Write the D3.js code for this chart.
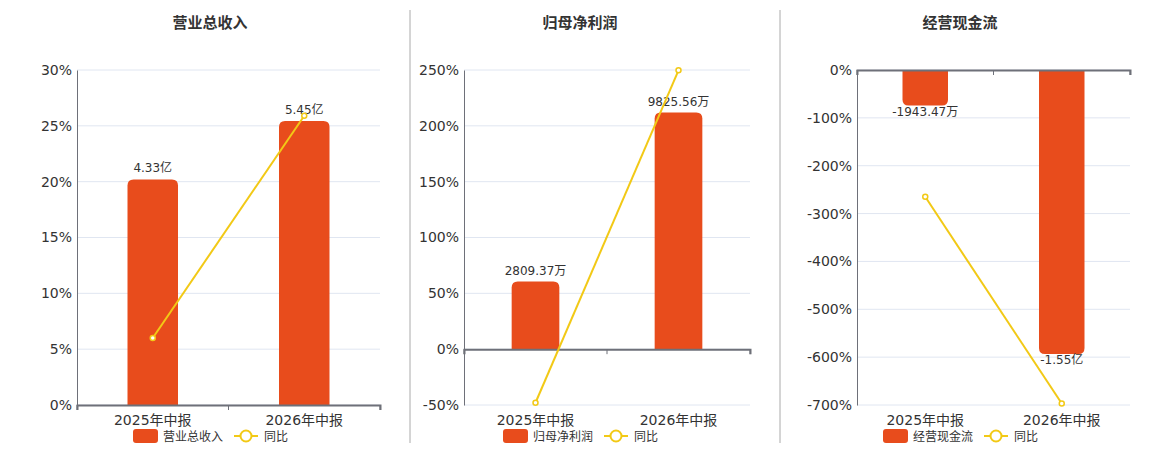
<!DOCTYPE html>
<html>
<head>
<meta charset="utf-8">
<script src="https://cdn.jsdelivr.net/npm/d3@7"></script>
<style>
  body { margin: 0; background: #fff; }
  text { font-family: "DejaVu Sans", "Noto Sans CJK SC", sans-serif; }
</style>
</head>
<body>
<div id="chart"></div>
<script>
// datos
const categories = ["2025年中报", "2026年中报"]
const revenue = [4.33, 5.45]            // 亿
const revenueLabels = ["4.33亿", "5.45亿"]
const revenueYoy = [6.0, 25.9]
const profit = [2809.37, 9825.56]       // 万
const profitLabels = ["2809.37万", "9825.56万"]
const profitYoy = [-48, 249.7]
const cashflow = [-1943.47, -15500]     // 万
const cashflowLabels = ["-1943.47万", "-1.55亿"]
const cashflowYoy = [-265, -697]

const revenueTicks = [0, 5, 10, 15, 20, 25, 30]
const profitTicks = [-50, 0, 50, 100, 150, 200, 250]
const cashflowTicks = [-700, -600, -500, -400, -300, -200, -100, 0]

const width = 1160
const height = 450
const barColor = "#e84c1c"
const lineColor = "#f2c916"

const svg = d3.select("#chart").append("svg").attr("width", width).attr("height", height)

const panels = [
  { title: "营业总收入", name: "营业总收入", left: 77, right: 380, center: 210, bars: revenue, labels: revenueLabels, yoy: revenueYoy, ticks: revenueTicks },
  { title: "归母净利润", name: "归母净利润", left: 464, right: 750, center: 580, bars: profit, labels: profitLabels, yoy: profitYoy, ticks: profitTicks },
  { title: "经营现金流", name: "经营现金流", left: 857, right: 1130, center: 960, bars: cashflow, labels: cashflowLabels, yoy: cashflowYoy, ticks: cashflowTicks }
]

const plotTop = 70, plotBottom = 405

// separadores
;[410, 780].forEach(xp => {
  svg.append("line").attr("x1", xp).attr("x2", xp).attr("y1", 10).attr("y2", 443)
    .attr("stroke", "#aaa").attr("stroke-width", 1)
})

// path de barra con esquinas redondeadas en el extremo
function barPath(x0, w, y0, y1, r) {
  // y0 = cero, y1 = extremo
  const up = y1 < y0
  r = Math.min(r, Math.abs(y0 - y1))
  if (up) {
    return `M${x0},${y0} V${y1 + r} Q${x0},${y1} ${x0 + r},${y1} H${x0 + w - r} Q${x0 + w},${y1} ${x0 + w},${y1 + r} V${y0} Z`
  }
  return `M${x0},${y0} V${y1 - r} Q${x0},${y1} ${x0 + r},${y1} H${x0 + w - r} Q${x0 + w},${y1} ${x0 + w},${y1 - r} V${y0} Z`
}

panels.forEach(p => {
  const g = svg.append("g")
  const pMin = d3.min(p.ticks), pMax = d3.max(p.ticks)

  const x = d3.scaleBand().domain(categories).range([p.left, p.right])
  const y = d3.scaleLinear().domain([pMin, pMax]).range([plotBottom, plotTop])

  // escala oculta para las barras, con el cero alineado
  const ext = d3.max(p.bars, d => Math.abs(d)) * 1.18
  let bDom
  if (pMax > 0) bDom = [ext * pMin / pMax, ext]
  else bDom = [-ext, 0]
  const yb = d3.scaleLinear().domain(bDom).range([plotBottom, plotTop])

  // titulo
  g.append("text").attr("x", p.center).attr("y", 28).attr("text-anchor", "middle")
    .attr("font-size", 15).attr("font-weight", "bold").attr("fill", "#333").text(p.title)

  // grid
  g.selectAll(".grid").data(p.ticks).join("line")
    .attr("x1", p.left).attr("x2", p.right)
    .attr("y1", d => y(d)).attr("y2", d => y(d))
    .attr("stroke", "#e0e6f1").attr("stroke-width", 1)

  // eje y
  const yAxis = d3.axisLeft(y).tickValues(p.ticks).tickSize(0).tickPadding(5).tickFormat(d => d + "%")
  const yg = g.append("g").attr("transform", `translate(${p.left},0)`).call(yAxis)
  yg.select(".domain").attr("stroke", "#6e7079")
  yg.selectAll("text").attr("font-size", 14).attr("fill", "#333")
    .style("font-family", "'DejaVu Sans', sans-serif")

  // barras
  const bw = x.bandwidth() / 3
  g.selectAll(".bar").data(p.bars).join("path")
    .attr("d", (d, i) => barPath(x(categories[i]) + x.bandwidth() / 2 - bw / 2, bw, yb(0), yb(d), 6))
    .attr("fill", barColor)

  // etiquetas de barras
  g.selectAll(".blabel").data(p.bars).join("text")
    .attr("x", (d, i) => x(categories[i]) + x.bandwidth() / 2)
    .attr("y", d => d >= 0 ? yb(d) - 7 : yb(d) + 10)
    .attr("text-anchor", "middle").attr("font-size", 12).attr("fill", "#333")
    .text((d, i) => p.labels[i])

  // eje x (en el cero)
  const xAxis = d3.axisBottom(x).tickSize(5).tickFormat("")
  const xg = g.append("g").attr("transform", `translate(0,${y(0)})`).call(xAxis)
  xg.select(".domain").attr("stroke", "#6e7079").attr("stroke-width", 2)
  xg.selectAll(".tick").remove()
  const edges = [p.left, (p.left + p.right) / 2, p.right]
  xg.selectAll(".tk").data(edges).join("line")
    .attr("x1", d => d).attr("x2", d => d).attr("y1", 0).attr("y2", 5)
    .attr("stroke", "#6e7079")

  // etiquetas x abajo
  g.selectAll(".xlabel").data(categories).join("text")
    .attr("x", d => x(d) + x.bandwidth() / 2).attr("y", 425)
    .attr("text-anchor", "middle").attr("font-size", 14).attr("fill", "#333")
    .text(d => d)

  // linea yoy
  const line = d3.line().x((d, i) => x(categories[i]) + x.bandwidth() / 2).y(d => y(d))
  g.append("path").datum(p.yoy).attr("d", line)
    .attr("fill", "none").attr("stroke", lineColor).attr("stroke-width", 2)
  g.selectAll(".pt").data(p.yoy).join("circle")
    .attr("cx", (d, i) => x(categories[i]) + x.bandwidth() / 2).attr("cy", d => y(d))
    .attr("r", 2.5).attr("fill", "#fff").attr("stroke", lineColor).attr("stroke-width", 1.5)

  // leyenda (centrada bajo el titulo)
  const lx = p.center - 77
  const lg = g.append("g").attr("transform", `translate(${lx},436)`)
  lg.append("rect").attr("x", 0).attr("y", -7).attr("width", 25).attr("height", 14).attr("rx", 3)
    .attr("fill", barColor)
  lg.append("text").attr("x", 30).attr("y", 4.5).attr("font-size", 12).attr("fill", "#333").text(p.name)
  lg.append("line").attr("x1", 101).attr("x2", 125).attr("y1", 0).attr("y2", 0)
    .attr("stroke", lineColor).attr("stroke-width", 2)
  lg.append("circle").attr("cx", 113).attr("cy", 0).attr("r", 5.5)
    .attr("fill", "#fff").attr("stroke", lineColor).attr("stroke-width", 2)
  lg.append("text").attr("x", 131).attr("y", 4.5).attr("font-size", 12).attr("fill", "#333").text("同比")
})
</script>
</body>
</html>
